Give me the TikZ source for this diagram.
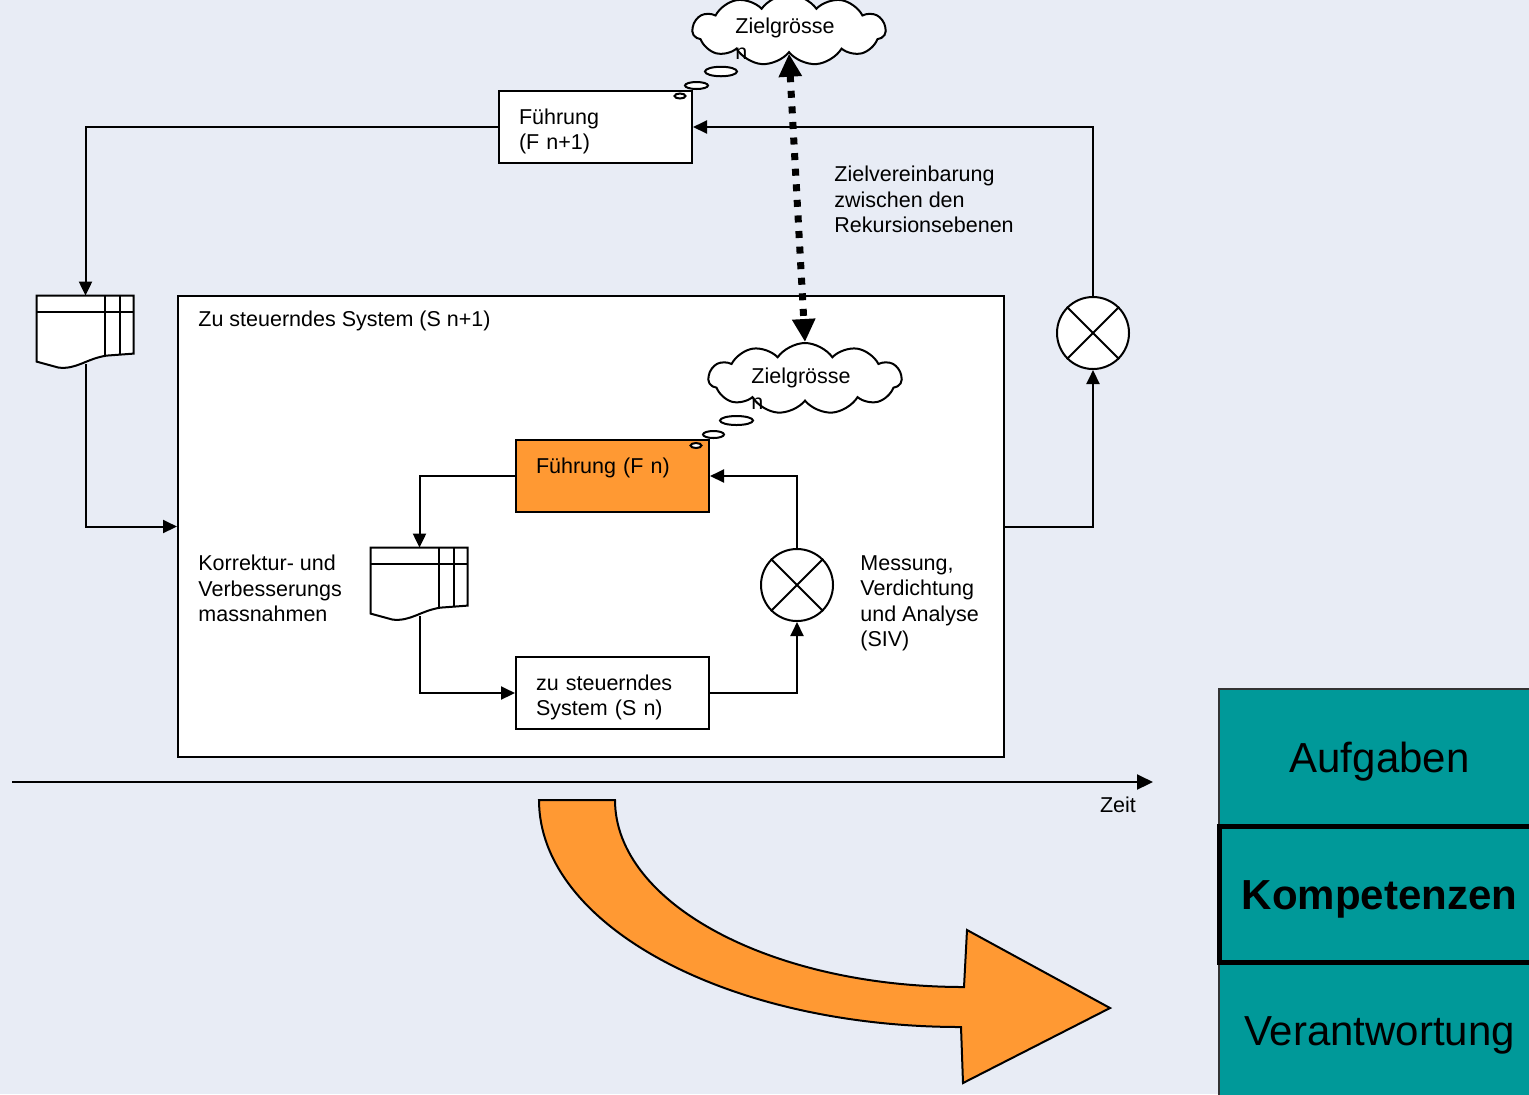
\documentclass[tikz,border=0pt]{standalone}
\usepackage{fontspec}
\setmainfont{Liberation Sans}
\usetikzlibrary{arrows.meta,calc}
\usetikzlibrary{positioning,shapes.symbols,shapes.geometric}

\definecolor{bgblue}{RGB}{232,236,245}
\definecolor{fuehrungorange}{RGB}{255,153,51}
\definecolor{rolleteal}{RGB}{0,153,153}

\tikzstyle{line}=[-, line width=1pt]
\tikzstyle{conn}=[line, -{Triangle[width=6.5pt,length=7pt]}]
\tikzstyle{dotconn}=[line width=3.5pt, dash pattern=on 3.5pt off 4.3pt,
		{Triangle[width=11pt,length=11.5pt]}-{Triangle[width=11pt,length=11.5pt]}]
\tikzstyle{timeaxis}=[line, -{Triangle[width=7.5pt,length=8pt]}]
\tikzstyle{block}=[rectangle, draw, line width=1pt, fill=white,
		minimum width=96.5pt, minimum height=36pt, text width=76.5pt,
		align=left, inner xsep=10pt, inner ysep=0pt,
		text height=16.5pt, text depth=19.5pt]
\tikzstyle{system}=[rectangle, draw, line width=1pt, fill=white]
\tikzstyle{summer}=[circle, draw, line width=1pt, fill=white,
		minimum size=36pt, inner sep=0pt]
\tikzstyle{docbox}=[rectangle, minimum width=48.5pt, minimum height=34pt, inner sep=0pt]
\tikzstyle{thought}=[cloud, draw, line width=1pt, fill=white, cloud puffs=11,
		cloud puff arc=110, cloud ignores aspect, minimum width=96.5pt,
		minimum height=35.5pt, inner sep=0pt]
\tikzstyle{bubble}=[ellipse, draw, line width=1pt, fill=white, inner sep=0pt]
\tikzstyle{txt}=[inner sep=0pt, align=left]
\tikzstyle{rolle}=[rectangle, draw=black!80, line width=0.75pt, fill=rolleteal,
		minimum width=160.5pt, minimum height=68pt, text height=15pt, text depth=0pt,
		font=\fontsize{21}{25}\selectfont]

\newcommand{\drawdoc}[1]{%
  \begin{scope}[shift={(#1.north west)}]
    \draw[line,fill=white] (0,0) -- (97,0) -- (97,58) -- (70,60)
      .. controls (50,63) and (40,74) .. (22,72) -- (0,66) -- cycle;
    \draw[line] (0,16) -- (97,16) (68,0) -- (68,60) (83,0) -- (83,59);
  \end{scope}}

\newcommand{\drawcross}[1]{%
  \draw[line] (#1.45) -- (#1.225) (#1.135) -- (#1.315);}

\begin{document}
\begin{tikzpicture}[x=0.5pt,y=-0.5pt,font=\fontsize{10.75}{12.75}\selectfont]

    \useasboundingbox (0,0) rectangle (1529,1094);
    \fill[bgblue] (0,0) rectangle (1529,1094);
    \clip (0,0) rectangle (1529,1094);

    \node (sysbig) at (591,526.5) [system, minimum width=413pt, minimum height=230.5pt] {};
    \node (sysbigtext) at (198,321) [txt, anchor=west] {Zu steuerndes System (S n+1)};

    % obere Ebene
    \node (fuehrungo) at (595.5,127) [block] {Führung\\(F n+1)};
    \node (bubo3) at (680,96) [bubble, minimum width=5.5pt, minimum height=2.5pt] {};
    \node (bubo2) at (696.5,85.5) [bubble, minimum width=11.5pt, minimum height=3.5pt] {};
    \node (bubo1) at (721,71.5) [bubble, minimum width=16pt, minimum height=4.75pt] {};
    \node (zielo) at (789,30) [thought] {};
    \node (zielotext) at (735,18) [txt, anchor=north west] {Zielgrösse\\n};

    \node (doco) at (85.5,330) [docbox] {};
    \drawdoc{doco}
    \node (circo) at (1093,333) [summer] {};
    \drawcross{circo}

    \draw[conn] (fuehrungo.west) -| (doco.north);
    \draw[conn] (doco.south) |- (sysbig.west);
    \draw[conn] (sysbig.east) -| (circo.south);
    \draw[conn] (circo.north) |- (fuehrungo.east);

    \node (vereinbarung) at (834,166) [txt, anchor=north west]
    {Zielvereinbarung\\zwischen den\\Rekursionsebenen};

    % untere Ebene
    \node (fuehrungi) at (612.5,476) [block, fill=fuehrungorange] {Führung (F n)};
    \node (bubi3) at (696,445.5) [bubble, minimum width=5.5pt, minimum height=2.5pt] {};
    \node (bubi2) at (713.5,434.5) [bubble, minimum width=10.5pt, minimum height=3.5pt] {};
    \node (bubi1) at (736.5,420.5) [bubble, minimum width=16.5pt, minimum height=4.5pt] {};
    \node (zielu) at (805,378.5) [thought] {};
    \node (zielutext) at (751,368) [txt, anchor=north west] {Zielgrösse\\n};

    \node (sysi) at (612.5,693) [block] {zu steuerndes\\System (S n)};
    \node (doci) at (419.5,582) [docbox] {};
    \drawdoc{doci}
    \node (circi) at (797,585) [summer] {};
    \drawcross{circi}

    \draw[conn] (fuehrungi.west) -| (doci.north);
    \draw[conn] (doci.south) |- (sysi.west);
    \draw[conn] (sysi.east) -| (circi.south);
    \draw[conn] (circi.north) |- (fuehrungi.east);

    \node (korrektur) at (198,555) [txt, anchor=north west]
    {Korrektur- und\\Verbesserungs\\massnahmen};
    \node (messung) at (860,555) [txt, anchor=north west]
    {Messung,\\Verdichtung\\und Analyse\\(SIV)};

    \draw[dotconn] (zielo.south) -- (zielu.north);

    % Zeitachse
    \coordinate (t0) at (12,782);
    \coordinate (t1) at (1153,782);
    \draw[timeaxis] (t0) -- (t1);
    \node (zeit) at (1118,805) {Zeit};

    \draw[line, fill=fuehrungorange] (539,800)
      arc[start angle=180, end angle=270, x radius=211pt, y radius=113.5pt]
      -- (963,1083) -- (1110,1008) -- (967,930) -- (964,987)
      arc[start angle=270, end angle=180, x radius=174.5pt, y radius=93.5pt]
      -- cycle;

    \node (aufgaben) at (1379.5,757) [rolle] {Aufgaben};
    \node (verantwortung) at (1379.5,1030) [rolle] {Verantwortung};
    \node (kompetenzen) at (1379.5,894) [rolle, draw=black, line width=2.5pt,
            font=\fontsize{21}{25}\selectfont\bfseries] {Kompetenzen};

  \end{tikzpicture}
\end{document}
